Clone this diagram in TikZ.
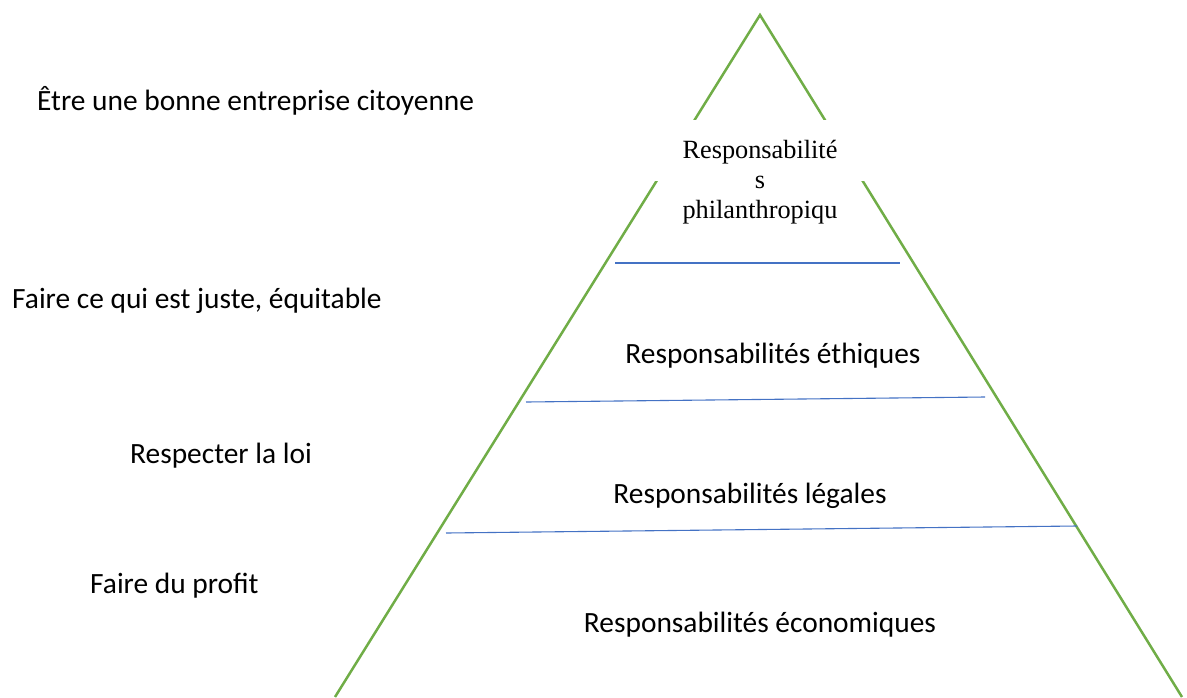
\documentclass[tikz,border=0pt]{standalone}
\usepackage{fontspec}
\setmainfont{Carlito}
\newfontfamily\serifbox{Liberation Serif}
\usetikzlibrary{positioning}
\definecolor{EdgeGreen}{HTML}{70AD47}
\definecolor{SepBlue}{HTML}{4472C4}

\begin{document}
\begin{tikzpicture}[
            x=1pt, y=-1pt,
            edge/.style={draw=EdgeGreen, line width=2.5pt},
            sepline/.style={draw=SepBlue, line width=1.1pt},
            level/.style={anchor=base, inner sep=0pt, font=\fontsize{29.4}{35}\selectfont},
            duty/.style={anchor=base west, inner sep=0pt, font=\fontsize{29.4}{35}\selectfont},
            topbox/.style={fill=white, inner sep=0pt, minimum width=230pt, minimum height=61pt}
        ]
            \useasboundingbox (0,0) rectangle (1187,697);
            % pyramid
            \coordinate (apex) at (760,15);
            \coordinate (baseL) at (335,697);
            \coordinate (baseR) at (1182,697);
            \draw[edge] (baseL) -- (apex) -- (baseR);

            % separators
            \coordinate (s1L) at (615,263);
            \coordinate (s1R) at (900,263);
            \coordinate (s2L) at (526,402);
            \coordinate (s2R) at (985,397);
            \coordinate (s3L) at (446,533);
            \coordinate (s3R) at (1077,526);
            \draw[sepline] (s1L) -- (s1R);
            \draw[sepline] (s2L) -- (s2R);
            \draw[sepline] (s3L) -- (s3R);

            % top text box
            \node[topbox] (philbox) at (760,150.5) {};
            \node[anchor=base, inner sep=0pt, align=center, font=\serifbox\fontsize{26.3}{30}\selectfont] (phil) at (760,218) {Responsabilité\\s\\philanthropiqu};

            \node[level] (ethic) at (773,363) {Responsabilités éthiques};
            \node[level] (legal) at (750,503) {Responsabilités légales};
            \node[level] (econ) at (760,632) {Responsabilités économiques};

            \node[duty] (citizen) at (37,110) {Être une bonne entreprise citoyenne};
            \node[duty] (fair) at (12,308) {Faire ce qui est juste, équitable};
            \node[duty] (law) at (130,463) {Respecter la loi};
            \node[duty] (profit) at (90,593) {Faire du profit};
        \end{tikzpicture}
\end{document}
